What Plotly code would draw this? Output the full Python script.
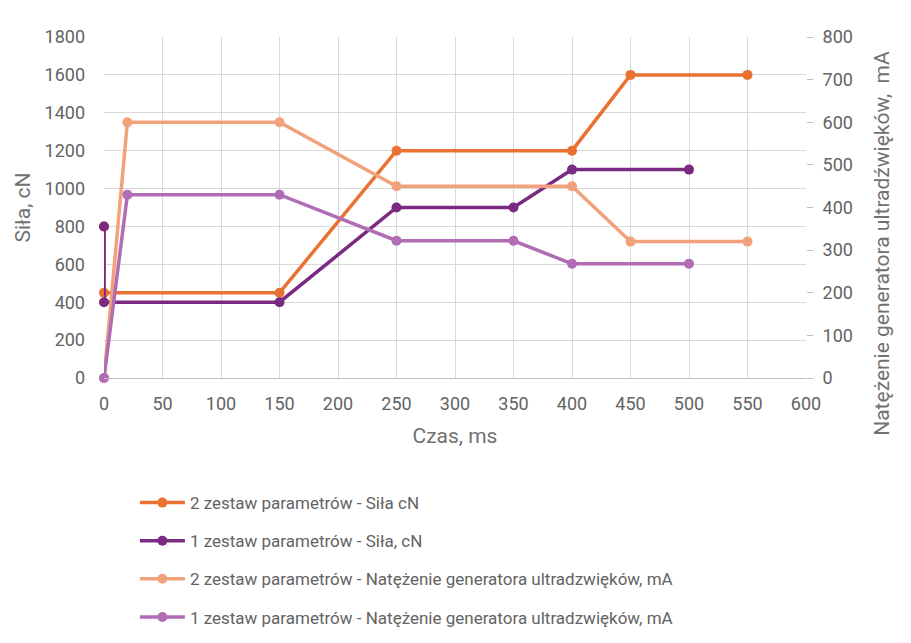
import plotly.graph_objects as go

# Data
czas_2_sila = [0, 0, 150, 250, 400, 450, 550]
sila_2 = [800, 450, 450, 1200, 1200, 1600, 1600]

czas_1_sila = [0, 0, 150, 250, 350, 400, 500]
sila_1 = [800, 400, 400, 900, 900, 1100, 1100]

czas_2_nat = [0, 20, 150, 250, 400, 450, 550]
nat_2 = [0, 600, 600, 450, 450, 320, 320]

czas_1_nat = [0, 20, 150, 250, 350, 400, 500]
nat_1 = [0, 430, 430, 322, 322, 268, 268]

names = [
    "2 zestaw parametrów - Siła cN",
    "1 zestaw parametrów - Siła, cN",
    "2 zestaw parametrów - Natężenie generatora ultradzwięków, mA",
    "1 zestaw parametrów - Natężenie generatora ultradzwięków, mA",
]
colors = ["#E97132", "#7A2A80", "#F1A27A", "#B06CB5"]

FONT = "Roboto"
GRAY = "#636363"
TGRAY = "#717171"
GRID = "#D9D9D9"

fig = go.Figure()
series = [
    (czas_2_sila, sila_2, "y"),
    (czas_1_sila, sila_1, "y"),
    (czas_2_nat, nat_2, "y2"),
    (czas_1_nat, nat_1, "y2"),
]
for i, (xs, ys, ax) in enumerate(series):
    fig.add_trace(go.Scatter(
        x=xs, y=ys, yaxis=ax, name=names[i], mode="lines+markers",
        line=dict(color=colors[i], width=3.5),
        marker=dict(color=colors[i], size=10),
        legendgroup="g%d" % i, cliponaxis=False,
    ))

fig.update_layout(
    width=911, height=643,
    margin=dict(l=104, r=105, t=37, b=265, autoexpand=False),
    paper_bgcolor="white", plot_bgcolor="white",
    font=dict(family=FONT, color=GRAY, size=17),
    showlegend=True,
    legend=dict(
        x=0.044, y=-0.314, xanchor="left", yanchor="top",
        orientation="v", tracegroupgap=13, itemwidth=45,
        font=dict(family=FONT, size=17, color=GRAY),
        bgcolor="rgba(0,0,0,0)",
    ),
    xaxis=dict(
        range=[0, 600], dtick=50, tick0=0,
        showgrid=True, gridcolor=GRID, gridwidth=1,
        zeroline=False, showline=True, linecolor="#BFBFBF", linewidth=1,
        ticks="", ticklabelstandoff=9,
        tickfont=dict(size=18, color=GRAY),
        title=dict(text="Czas, ms", font=dict(size=21, color=TGRAY), standoff=15),
    ),
    yaxis=dict(
        range=[0, 1800], dtick=200, tick0=0,
        showgrid=True, gridcolor=GRID, gridwidth=1,
        zeroline=False, showline=False,
        ticks="", ticklabelstandoff=18,
        tickfont=dict(size=18, color=GRAY),
        title=dict(text="Siła, cN", font=dict(size=21, color=TGRAY), standoff=8),
    ),
    yaxis2=dict(
        range=[0, 800], dtick=100, tick0=0, overlaying="y", side="right",
        showgrid=False, zeroline=False, showline=False,
        ticks="outside", ticklen=6, tickcolor="#BFBFBF",
        ticklabelstandoff=6,
        tickfont=dict(size=18, color=GRAY),
    ),
    annotations=[dict(
        text="Natężenie generatora ultradźwięków,  mA",
        xref="paper", yref="paper", x=1.108, y=0.396,
        xanchor="center", yanchor="middle", textangle=-90,
        showarrow=False, font=dict(family=FONT, size=21, color=TGRAY),
    )],
)

fig.write_html("out.html")
